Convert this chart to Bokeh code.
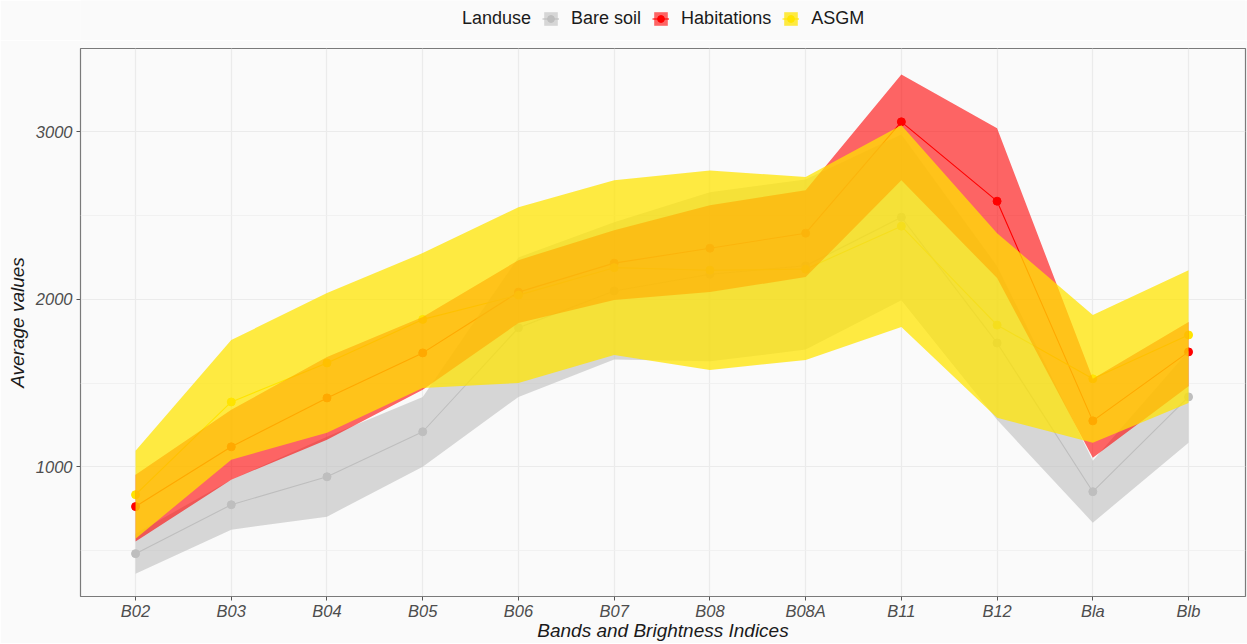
from bokeh.plotting import figure
from bokeh.layouts import column
from bokeh.models import Range1d, FixedTicker, Legend, LegendItem
from bokeh.embed import file_html
from bokeh.resources import INLINE

bands = ["B02", "B03", "B04", "B05", "B06", "B07", "B08", "B08A", "B11", "B12", "Bla", "Blb"]
classes = ["Bare soil", "Habitations", "ASGM"]

bare_mean  = [481, 773, 940, 1209, 1830, 2050, 2150, 2200, 2490, 1739, 851, 1417]
bare_lower = [361, 624, 702, 1000, 1417, 1640, 1630, 1700, 1995, 1280, 666, 1143]
bare_upper = [600, 923, 1179, 1417, 2250, 2460, 2640, 2715, 2985, 2198, 1036, 1691]

hab_mean  = [762, 1119, 1411, 1680, 2043, 2216, 2305, 2395, 3060, 2586, 1274, 1686]
hab_lower = [553, 923, 1161, 1460, 1858, 1996, 2043, 2133, 2711, 2127, 1054, 1480]
hab_upper = [952, 1340, 1656, 1894, 2234, 2413, 2562, 2651, 3343, 3021, 1525, 1864]

asgm_mean  = [833, 1387, 1620, 1880, 2025, 2189, 2174, 2180, 2437, 1846, 1525, 1787]
asgm_lower = [570, 1042, 1203, 1470, 1500, 1668, 1578, 1638, 1835, 1292, 1143, 1380]
asgm_upper = [1096, 1757, 2037, 2276, 2550, 2711, 2770, 2730, 3039, 2395, 1906, 2174]

y_ticks = [1000, 2000, 3000]
y_minor = [500, 1500, 2500]

colors = {"Bare soil": "#BEBEBE", "Habitations": "#FF0000", "ASGM": "#FFE400"}
alphas = {"Bare soil": 0.6, "Habitations": 0.6, "ASGM": 0.74}
series = {
    "Bare soil": (bare_mean, bare_lower, bare_upper),
    "Habitations": (hab_mean, hab_lower, hab_upper),
    "ASGM": (asgm_mean, asgm_lower, asgm_upper),
}

x = list(range(len(bands)))
FONT = "Liberation Sans"
BG = "#FAFAFA"
W = 1247

# ---------------- main plot ----------------
p = figure(width=W, height=603,
           x_range=Range1d(-0.575, 11.595), y_range=Range1d(225, 3498),
           output_backend="svg", toolbar_location=None,
           min_border_left=80, min_border_right=2,
           min_border_top=8, min_border_bottom=46)

p.background_fill_color = BG
p.border_fill_color = BG
p.outline_line_color = "#7A7A7A"
p.outline_line_width = 1.2

# layer order: lines, points, ribbons
for c in classes:
    m, lo, hi = series[c]
    p.line(x, m, line_color=colors[c], line_width=1.1)
for c in classes:
    m, lo, hi = series[c]
    p.scatter(x, m, size=8, fill_color=colors[c], line_color=colors[c])
for c in classes:
    m, lo, hi = series[c]
    p.varea(x=x, y1=lo, y2=hi, fill_color=colors[c], fill_alpha=alphas[c])

p.xaxis.ticker = FixedTicker(ticks=x)
p.xaxis.major_label_overrides = {i: b for i, b in enumerate(bands)}
p.yaxis.ticker = FixedTicker(ticks=y_ticks, minor_ticks=y_minor)

for ax in (p.xaxis, p.yaxis):
    ax.axis_line_color = None
    ax.major_tick_line_color = "#555555"
    ax.major_tick_out = 4
    ax.major_tick_in = 0
    ax.minor_tick_line_color = None
    ax.major_label_text_font = FONT
    ax.major_label_text_font_style = "italic"
    ax.major_label_text_font_size = "16.5px"
    ax.major_label_text_color = "#4D4D4D"
    ax.axis_label_text_font = FONT
    ax.axis_label_text_font_style = "italic"
    ax.axis_label_text_font_size = "19px"
    ax.axis_label_text_color = "#1A1A1A"

p.xaxis.axis_label = "Bands and Brightness Indices"
p.yaxis.axis_label = "Average values"
p.xaxis.major_label_standoff = 1
p.xaxis.axis_label_standoff = -3
p.yaxis.major_label_standoff = 4
p.yaxis.axis_label_standoff = 5

p.xgrid.grid_line_color = "#EBEBEB"
p.ygrid.grid_line_color = "#EBEBEB"
p.xgrid.grid_line_width = 1.2
p.ygrid.grid_line_width = 1.2
p.ygrid.minor_grid_line_color = "#EFEFEF"
p.ygrid.minor_grid_line_width = 0.8

# ---------------- legend strip ----------------
# The strip's ranges exclude the data, so its renderers only feed the legend keys.
lg = figure(width=W, height=40, x_range=Range1d(0, 1), y_range=Range1d(0, 1),
            output_backend="svg", toolbar_location=None,
            x_axis_type=None, y_axis_type=None,
            min_border_left=0, min_border_right=0, min_border_top=0, min_border_bottom=0)
lg.background_fill_color = BG
lg.border_fill_color = BG
lg.outline_line_color = None
lg.grid.visible = False

dummy = lg.scatter(x, bare_mean, fill_alpha=0, line_alpha=0)
items = [LegendItem(label="Landuse", renderers=[dummy])]
for c in classes:
    m, lo, hi = series[c]
    ra = lg.varea(x=x, y1=lo, y2=hi, fill_color=colors[c], fill_alpha=alphas[c])
    rl = lg.line(x, m, line_color=colors[c], line_width=1.1)
    rp = lg.scatter(x, m, size=8, fill_color=colors[c], line_color=colors[c])
    items.append(LegendItem(label=c, renderers=[ra, rl, rp]))

legend = Legend(items=items, orientation="horizontal",
                location=(353, 11),
                border_line_color=None, background_fill_alpha=0,
                glyph_width=17, glyph_height=17, label_height=18,
                label_standoff=12, spacing=11, padding=0, margin=0,
                label_text_font=FONT, label_text_font_size="18px",
                label_text_color="#1A1A1A")
lg.add_layout(legend)

layout = column(lg, p, spacing=0)
open("out.html", "w").write(file_html(layout, INLINE))
